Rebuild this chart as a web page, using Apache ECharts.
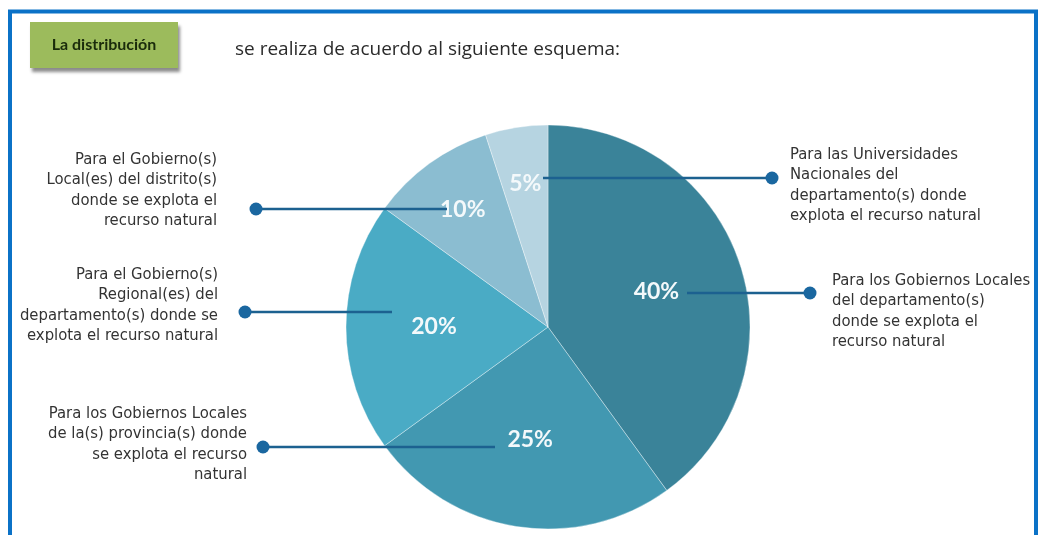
<!DOCTYPE html>
<html>
<head>
<meta charset="utf-8">
<script src="https://cdn.jsdelivr.net/npm/echarts@6/dist/echarts.min.js"></script>
<style>
html,body{margin:0;padding:0;background:#fff;}
#chart{width:1039px;height:535px;}
</style>
</head>
<body>
<div id="chart"></div>
<script>
// shares of the distribution, clockwise from the top
const shareValues = [40, 25, 20, 10, 5]
const shareNames = [
    'Para los Gobiernos Locales\ndel departamento(s)\ndonde se explota el\nrecurso natural',
    'Para los Gobiernos Locales\nde la(s) provincia(s) donde\nse explota el recurso\nnatural',
    'Para el Gobierno(s)\nRegional(es) del\ndepartamento(s) donde se\nexplota el recurso natural',
    'Para el Gobierno(s)\nLocal(es) del distrito(s)\ndonde se explota el\nrecurso natural',
    'Para las Universidades\nNacionales del\ndepartamento(s) donde\nexplota el recurso natural'
]
const titleBox = 'La distribución'
const titleText = 'se realiza de acuerdo al siguiente esquema:'

const sliceColors = ['#3a8399', '#4298b1', '#4aabc5', '#8bbdd1', '#b6d4e1']

// callout layout, same order as the shares
const callouts = [
    {dot: [810, 293], end: 687, tx: 832, ty: 270, align: 'left'},
    {dot: [263, 447], end: 495, tx: 247, ty: 403, align: 'right'},
    {dot: [245, 312], end: 392, tx: 218, ty: 264, align: 'right'},
    {dot: [256, 209], end: 447, tx: 217, ty: 149, align: 'right'},
    {dot: [772, 178], end: 543, tx: 790, ty: 144, align: 'left'}
]

const chart = echarts.init(document.getElementById('chart'))

const center = [548, 327]
const lineColor = '#1c6190'
const sideFont = '16.5px "DejaVu Sans Condensed"'

var graphic = [
    {
        type: 'rect', z: 1,
        shape: {x: 10, y: 11.5, width: 1026, height: 620},
        style: {fill: 'none', stroke: '#0b72c7', lineWidth: 4}
    },
    {
        type: 'rect', z: 2,
        shape: {x: 30, y: 22, width: 148, height: 46},
        style: {fill: '#9cbb5c', shadowColor: 'rgba(0,0,0,0.45)', shadowBlur: 3, shadowOffsetX: 2, shadowOffsetY: 4}
    },
    {
        type: 'text', z: 3, x: 104, y: 45,
        style: {text: titleBox, fill: '#1a2b0b', font: 'bold 16px Lato', align: 'center', verticalAlign: 'middle'}
    },
    {
        type: 'text', z: 3, x: 235, y: 50,
        style: {text: titleText, fill: '#2b2b2b', font: '19px "Open Sans"', align: 'left', verticalAlign: 'middle'}
    }
]

callouts.forEach((c, i) => {
    graphic.push({
        type: 'line', z: 50,
        shape: {x1: c.dot[0], y1: c.dot[1], x2: c.end, y2: c.dot[1]},
        style: {stroke: lineColor, lineWidth: 2.5}
    })
    graphic.push({
        type: 'circle', z: 51,
        shape: {cx: c.dot[0], cy: c.dot[1], r: 6.5},
        style: {fill: '#1a67a0'}
    })
    graphic.push({
        type: 'text', z: 51, x: c.tx, y: c.ty,
        style: {
            text: shareNames[i], fill: '#333', font: sideFont,
            lineHeight: 20.5, align: c.align, verticalAlign: 'top'
        }
    })
})

const pieData = shareValues.map((v, i) => ({value: v, name: shareNames[i], itemStyle: {color: sliceColors[i]}}))

// transparent copies of the pie that only carry the percentage labels
function labelSeries(radius, show) {
    return {
        type: 'pie', silent: true, z: 5,
        center: center, radius: radius, startAngle: 90,
        itemStyle: {color: 'transparent'},
        labelLine: {show: false},
        emphasis: {disabled: true},
        data: shareValues.map((v, i) => ({
            value: v,
            label: {
                show: show(i), position: 'inside', formatter: '{c}%',
                color: '#f4f9fb', fontFamily: 'Lato', fontWeight: 'bold', fontSize: 23
            }
        }))
    }
}

const option = {
    animation: false,
    graphic: graphic,
    series: [
        {
            type: 'pie', silent: true, z: 2,
            center: center, radius: 202, startAngle: 90,
            label: {show: false}, labelLine: {show: false},
            emphasis: {disabled: true},
            itemStyle: {borderColor: 'rgba(255,255,255,0.35)', borderWidth: 1},
            data: pieData
        },
        labelSeries([0, 222], i => i < 3),
        labelSeries([0, 284], i => i >= 3)
    ]
}
chart.setOption(option)
</script>
</body>
</html>
